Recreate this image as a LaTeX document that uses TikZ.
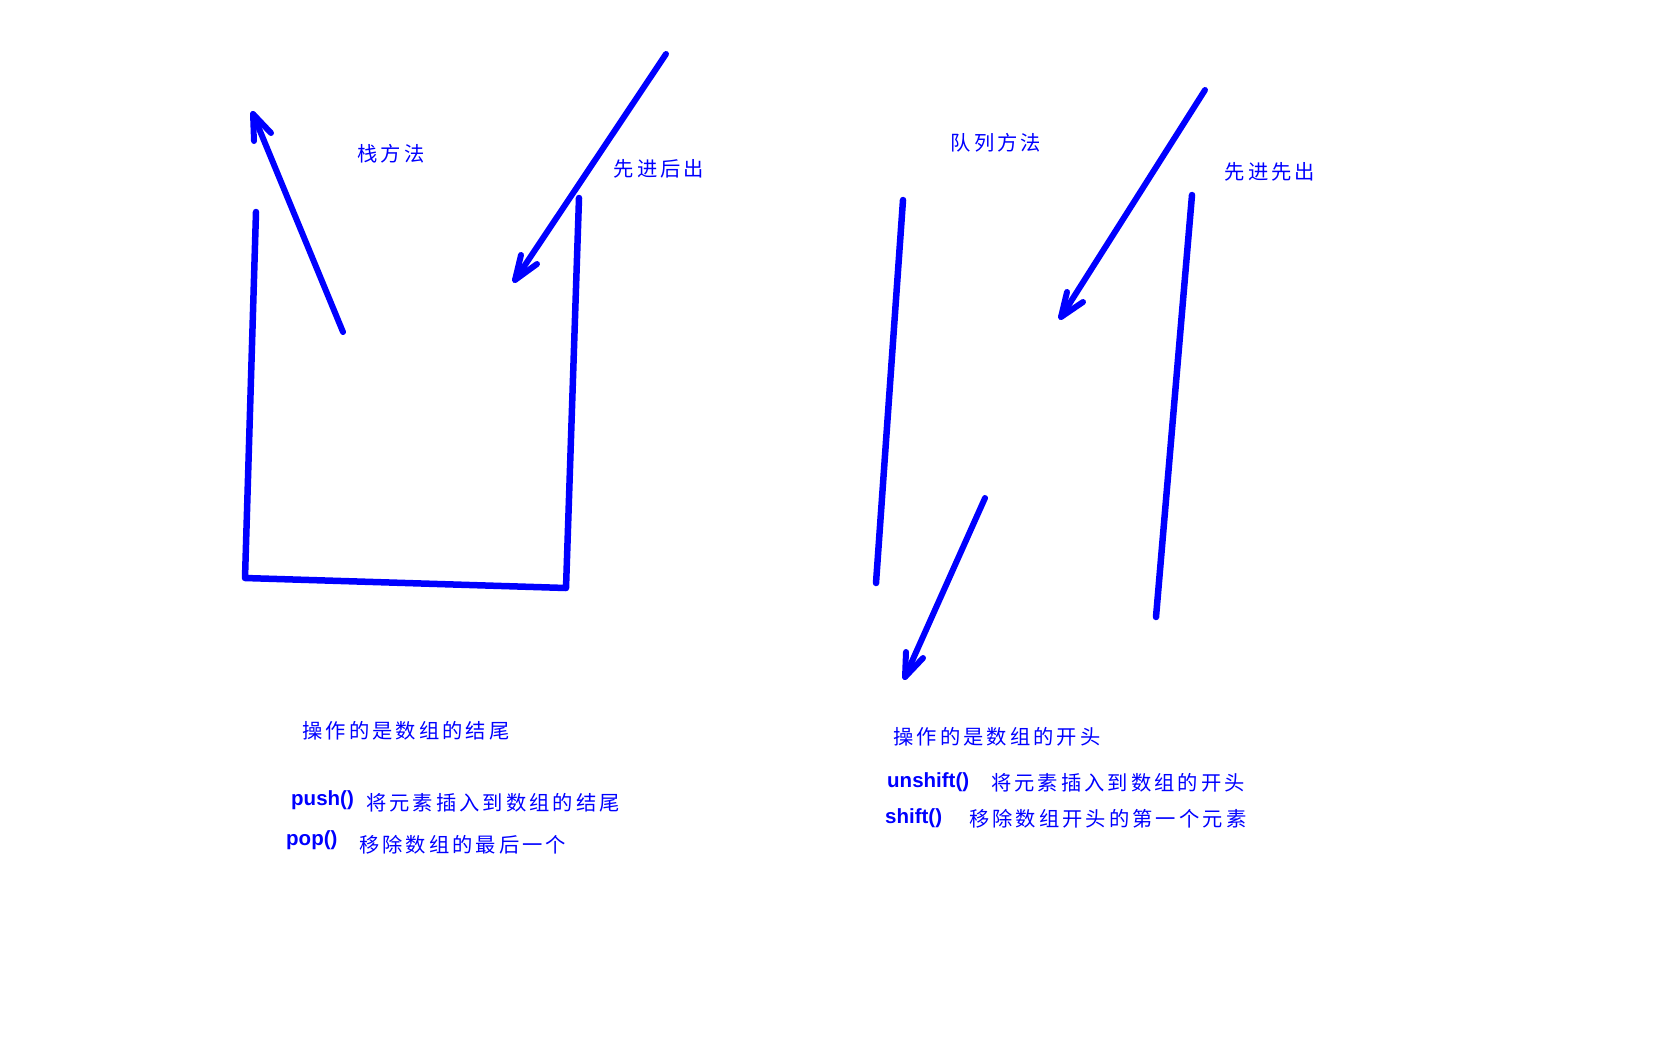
\documentclass[tikz,border=0pt]{standalone}
\usepackage{fontspec}
\newfontfamily\cjk[LetterSpace=15]{Noto Sans CJK SC}
\newfontfamily\latinb{Liberation Sans}
\definecolor{penblue}{RGB}{0,0,255}
\begin{document}
\begin{tikzpicture}[x=1pt,y=-1pt,
  pen/.style={draw=penblue,line width=6.5pt,line cap=round,line join=round},
  thinpen/.style={draw=penblue,line width=6pt,line cap=round,line join=round},
  cjktext/.style={inner sep=0pt,text=penblue,font=\cjk\fontsize{20.3}{22}\selectfont},
  code/.style={inner sep=0pt,text=penblue,font=\latinb\bfseries\fontsize{20.5}{22}\selectfont}]
\useasboundingbox (0,0) rectangle (1680,1050);
% ---------- stack ----------
\coordinate (sTL) at (256,212);
\coordinate (sBL) at (245,578);
\coordinate (sBR) at (566,588);
\coordinate (sTR) at (579,198);
\draw[pen] (sTL) -- (sBL) -- (sBR) -- (sTR);
% pop arrow (up)
\coordinate (popS) at (343,332);
\coordinate (popT) at (253,114);
\coordinate (popB1) at (254,141);
\coordinate (popB2) at (271,133);
\draw[thinpen] (popS) -- (popT);
\draw[thinpen] (popB1) -- (popT) -- (popB2);
% push arrow (down)
\coordinate (pushS) at (666,54);
\coordinate (pushT) at (515,280);
\coordinate (pushB1) at (521,255);
\coordinate (pushB2) at (537,264);
\draw[thinpen] (pushS) -- (pushT);
\draw[thinpen] (pushB1) -- (pushT) -- (pushB2);
\node[cjktext] (stackT) at (391,154) {栈方法};
\node[cjktext] (lifo) at (659,169) {先进后出};
\node[cjktext] (stackOp) at (406,731) {操作的是数组的结尾};
\node[code,anchor=west] (push) at (291,800) {push()};
\node[cjktext,anchor=west] (pushD) at (366,803) {将元素插入到数组的结尾};
\node[code,anchor=west] (pop) at (286,840) {pop()};
\node[cjktext,anchor=west] (popD) at (359,845) {移除数组的最后一个};
% ---------- queue ----------
\coordinate (qL1) at (903,200);
\coordinate (qL2) at (876,583);
\coordinate (qR1) at (1192,195);
\coordinate (qR2) at (1156,617);
\draw[pen] (qL1) -- (qL2);
\draw[pen] (qR1) -- (qR2);
\coordinate (inS) at (1205,90);
\coordinate (inT) at (1061,317);
\coordinate (inB1) at (1067,292);
\coordinate (inB2) at (1083,302);
\draw[thinpen] (inS) -- (inT);
\draw[thinpen] (inB1) -- (inT) -- (inB2);
\coordinate (outS) at (985,498);
\coordinate (outT) at (905,677);
\coordinate (outB1) at (906,652);
\coordinate (outB2) at (923,658);
\draw[thinpen] (outS) -- (outT);
\draw[thinpen] (outB1) -- (outT) -- (outB2);
\node[cjktext] (queueT) at (996,143) {队列方法};
\node[cjktext] (fifo) at (1270,172) {先进先出};
\node[cjktext] (queueOp) at (997,737) {操作的是数组的开头};
\node[code,anchor=west] (unshift) at (887,782) {unshift()};
\node[cjktext,anchor=west] (unshiftD) at (991,783) {将元素插入到数组的开头};
\node[code,anchor=west] (shift) at (885,818) {shift()};
\node[cjktext,anchor=west] (shiftD) at (969,819) {移除数组开头的第一个元素};
\end{tikzpicture}
\end{document}
